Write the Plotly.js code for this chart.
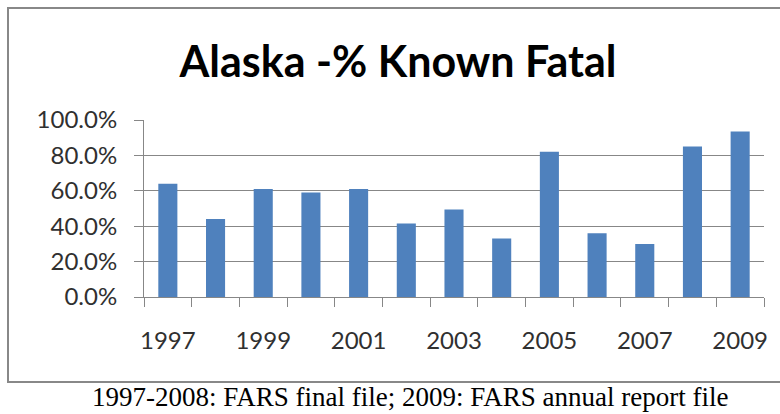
<!DOCTYPE html>
<html>
<head>
<meta charset="utf-8">
<script src="https://cdn.plot.ly/plotly-3.0.1.min.js"></script>
<style>html,body{margin:0;padding:0;background:#fff;}#chart{width:780px;height:414px;}</style>
</head>
<body>
<div id="chart"></div>
<script>
var years = ["1997","1998","1999","2000","2001","2002","2003","2004","2005","2006","2007","2008","2009"];
var pctKnownFatal = [0.64, 0.44, 0.61, 0.59, 0.61, 0.415, 0.495, 0.33, 0.82, 0.36, 0.30, 0.85, 0.935];
var xTickText = ["1997","","1999","","2001","","2003","","2005","","2007","","2009"];
var yTickVals = [0, 0.2, 0.4, 0.6, 0.8, 1.0];
var chartTitle = "Alaska -% Known Fatal";
var footnote = "1997-2008: FARS final file; 2009: FARS annual report file";

var trace = {
  type: "bar",
  x: years,
  y: pctKnownFatal,
  marker: {color: "#4F81BD"},
  hoverinfo: "x+y"
};

var layout = {
  width: 780, height: 414,
  margin: {l: 144, r: 16, t: 120, b: 117, pad: 0},
  paper_bgcolor: "#ffffff",
  plot_bgcolor: "#ffffff",
  bargap: 0.6,
  showlegend: false,
  title: {
    text: chartTitle,
    font: {family: "Lato", size: 43, color: "#000000", weight: "bold"},
    x: 398/780, xanchor: "center", xref: "container",
    y: 1 - 62/414, yanchor: "middle", yref: "container"
  },
  xaxis: {
    type: "category",
    tickvals: years,
    ticktext: xTickText,
    tickangle: 0,
    tickson: "boundaries",
    ticks: "outside", ticklen: 9, tickcolor: "#878787", tickwidth: 1,
    showline: true, linecolor: "#878787", linewidth: 1,
    showgrid: false, zeroline: false,
    tickfont: {family: "Lato", size: 24, color: "#303030"},
    ticklabelstandoff: 22
  },
  yaxis: {
    range: [0, 1],
    tickvals: yTickVals,
    tickformat: ".1%",
    ticks: "outside", ticklen: 9, tickcolor: "#878787", tickwidth: 1,
    showline: true, linecolor: "#878787", linewidth: 1,
    showgrid: true, gridcolor: "#878787", gridwidth: 1,
    zeroline: false,
    tickfont: {family: "Lato", size: 24, color: "#303030"},
    ticklabelstandoff: 12
  },
  shapes: [{
    type: "rect", xref: "paper", yref: "paper",
    x0: -136/620, x1: 1 + 30/620,
    y0: -85/177, y1: 1 + 112/177,
    line: {color: "#888888", width: 2},
    fillcolor: "rgba(0,0,0,0)",
    layer: "below"
  }],
  annotations: [{
    text: footnote, xref: "paper", yref: "paper",
    x: (410-144)/620, y: -100/177, xanchor: "center", yanchor: "middle",
    showarrow: false,
    font: {family: "Liberation Serif", size: 27, color: "#000000"}
  }]
};

Plotly.newPlot("chart", [trace], layout, {displayModeBar: false, staticPlot: true});
</script>
</body>
</html>
